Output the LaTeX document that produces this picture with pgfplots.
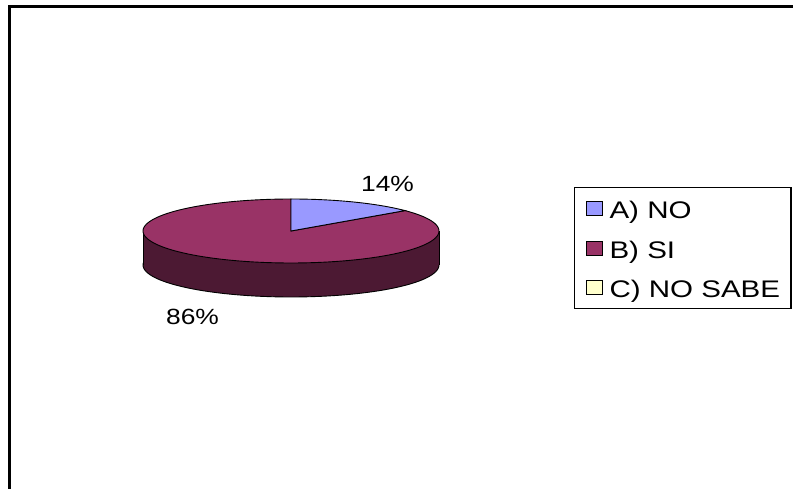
\documentclass[border=0pt]{standalone}
\usepackage{pgfplots}
\pgfplotsset{compat=1.18}
\usepackage{fontspec}
\setmainfont{Liberation Sans}
\newfontfamily\legfont[FakeStretch=1.23]{Liberation Sans}
\newfontfamily\labfont[FakeStretch=1.2]{Liberation Sans}
\definecolor{colA}{HTML}{9999FF}
\definecolor{colB}{HTML}{993366}
\definecolor{colBside}{HTML}{4C1933}
\definecolor{colC}{HTML}{FFFFCC}
% data (percent)
\def\vA{14}\def\vB{86}\def\vC{0}
\pgfmathsetmacro\aA{3.6*\vA}
\pgfmathsetmacro\aB{\aA+3.6*\vB}
% pie geometry (pt = px)
\def\cx{291}\def\cy{258}\def\rx{148}\def\ry{32}\def\dep{34}
\begin{document}
\begin{tikzpicture}
\begin{axis}[
  width=793pt, height=489pt, scale only axis,
  xmin=0, xmax=793, ymin=0, ymax=489,
  hide axis, clip=false,
  legend image code/.code={\draw[#1,draw=black,line width=0.9pt] (0pt,-7pt) rectangle (16pt,7pt);},
  legend cell align=left,
  legend style={at={(axis cs:574,302)}, anchor=north west, draw=black, line width=1.3pt,
    fill=white, font=\legfont\fontsize{24}{27}\selectfont,
    inner xsep=11pt, inner ysep=10.8pt, row sep=19.7pt, column sep=7pt,
    nodes={inner sep=0pt, text height=20pt, text depth=0pt}},
]
% frame
\addplot[black, line width=2.4pt, line join=miter, forget plot] coordinates {(9.5,0) (9.5,482.5) (793,482.5)};
% side (bottom ellipse + body)
\addplot[fill=colBside, draw=black, line width=0.9pt, domain=0:360, samples=121, forget plot]
  ({\cx+\rx*sin(x)}, {\cy-\dep+\ry*cos(x)}) -- cycle;
\addplot[fill=colBside, draw=none, forget plot] coordinates {(143,258) (439,258) (439,224) (143,224)} -- cycle;
\addplot[black, line width=0.9pt, forget plot] coordinates {(143,258) (143,224)};
\addplot[black, line width=0.9pt, forget plot] coordinates {(439,258) (439,224)};
% top face slices
\addplot[fill=colB, draw=black, line width=0.9pt, domain=\aA:\aB, samples=120, forget plot]
  ({\cx+\rx*sin(x)}, {\cy+\ry*cos(x)}) -- (axis cs:\cx,\cy) -- cycle;
\addplot[fill=colA, draw=black, line width=0.9pt, domain=0:\aA, samples=30, forget plot]
  ({\cx+\rx*sin(x)}, {\cy+\ry*cos(x)}) -- (axis cs:\cx,\cy) -- cycle;
% labels
\node[font=\labfont\fontsize{22}{26}\selectfont, anchor=base] at (axis cs:387.5,297.3) {14\%};
\node[font=\labfont\fontsize{22}{26}\selectfont, anchor=base] at (axis cs:192.5,164) {86\%};
% legend
\addlegendimage{fill=colA}\addlegendentry{A) NO}
\addlegendimage{fill=colB}\addlegendentry{B) SI}
\addlegendimage{fill=colC}\addlegendentry{C) NO SABE}
\end{axis}
\pgfresetboundingbox
\path (0,0) rectangle (793pt,489pt);
\end{tikzpicture}
\end{document}
